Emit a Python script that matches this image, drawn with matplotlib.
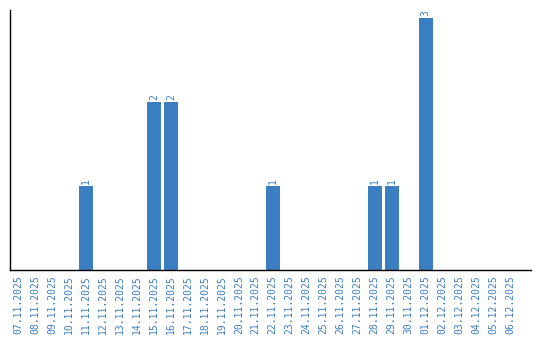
import matplotlib
matplotlib.use("Agg")
import matplotlib.pyplot as plt

dates = ["07.11.2025", "08.11.2025", "09.11.2025", "10.11.2025", "11.11.2025",
         "12.11.2025", "13.11.2025", "14.11.2025", "15.11.2025", "16.11.2025",
         "17.11.2025", "18.11.2025", "19.11.2025", "20.11.2025", "21.11.2025",
         "22.11.2025", "23.11.2025", "24.11.2025", "25.11.2025", "26.11.2025",
         "27.11.2025", "28.11.2025", "29.11.2025", "30.11.2025", "01.12.2025",
         "02.12.2025", "03.12.2025", "04.12.2025", "05.12.2025", "06.12.2025"]
counts = [0, 0, 0, 0, 1, 0, 0, 0, 2, 2, 0, 0, 0, 0, 0,
          1, 0, 0, 0, 0, 0, 1, 1, 0, 3, 0, 0, 0, 0, 0]

blue = "#3b7ec2"
fig = plt.figure(figsize=(5.4, 3.4), dpi=100)
ax = fig.add_axes([10/540, 70/340, 521/540, 260/340])
x = list(range(len(dates)))
bars = ax.bar(x, counts, width=0.82, color=blue)
for xi, c in zip(x, counts):
    if c > 0:
        ax.text(xi, c + 0.03, str(c), rotation=90, ha="center", va="bottom",
                color=blue, fontsize=7, family="DejaVu Sans Mono")
ax.set_xlim(-0.47, 30.2)
ax.set_ylim(0, 3.1)
ax.set_xticks(x)
ax.set_xticklabels(dates, rotation=90, color=blue, fontsize=7, family="DejaVu Sans Mono")
ax.tick_params(axis="x", length=0, pad=4)
ax.set_yticks([])
ax.spines["top"].set_visible(False)
ax.spines["right"].set_visible(False)
for s in ("left", "bottom"):
    ax.spines[s].set_color("black")
    ax.spines[s].set_linewidth(1)
fig.savefig("out.png", dpi=100)
